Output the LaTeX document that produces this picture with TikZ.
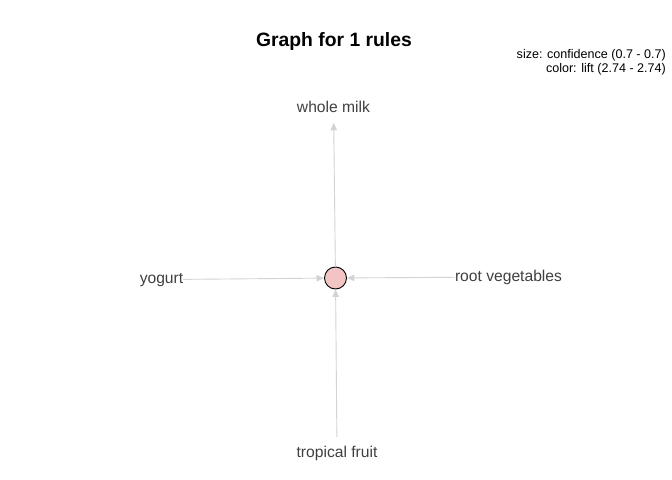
\documentclass[tikz,border=0pt]{standalone}
\usepackage{fontspec}
\setmainfont{Liberation Sans}
\usetikzlibrary{arrows.meta}
\definecolor{labelgray}{RGB}{64,64,64}
\definecolor{edgegray}{RGB}{211,211,211}
\definecolor{nodepink}{RGB}{242,196,196}
\tikzset{
  itemlabel/.style={inner sep=0pt, outer sep=0pt, text=labelgray, font=\fontsize{15.7}{18}\selectfont},
  ruleedge/.style={draw=edgegray, line width=0.9bp, -{Triangle[length=7.5bp,width=6.5bp]}},
  rulenode/.style={circle, draw=black, line width=0.9bp, fill=nodepink, minimum size=22bp, inner sep=0pt},
  legendtext/.style={inner sep=0pt, text=black, font=\fontsize{12.6}{15}\selectfont},
  titletext/.style={inner sep=0pt, text=black, font=\fontsize{19.4}{23}\selectfont\bfseries}
}
\begin{document}
\begin{tikzpicture}[x=1bp, y=-1bp]
\useasboundingbox (0,0) rectangle (672,480);
\node[titletext, anchor=base] (title) at (334,46.7) {Graph for 1 rules};
\node[legendtext, anchor=base east] (leg1) at (666,58.3) {size: confidence (0.7 - 0.7)};
\node[legendtext, anchor=base east] (leg2) at (666,72.3) {color: lift (2.74 - 2.74)};
\node[rulenode] (c) at (335.5,278) {};
\node[itemlabel, anchor=base] (wm) at (333.5,112.7) {whole milk};
\node[itemlabel, anchor=base] (yo) at (161.5,283) {yogurt};
\node[itemlabel, anchor=base] (rv) at (508.5,281) {root vegetables};
\node[itemlabel, anchor=base] (tf) at (337,457.3) {tropical fruit};
\draw[ruleedge] (yo) -- (c);
\draw[ruleedge] (rv) -- (c);
\draw[ruleedge, shorten <=9bp] (tf) -- (c);
\draw[ruleedge, shorten >=10bp] (c) -- (wm);
\end{tikzpicture}
\end{document}
